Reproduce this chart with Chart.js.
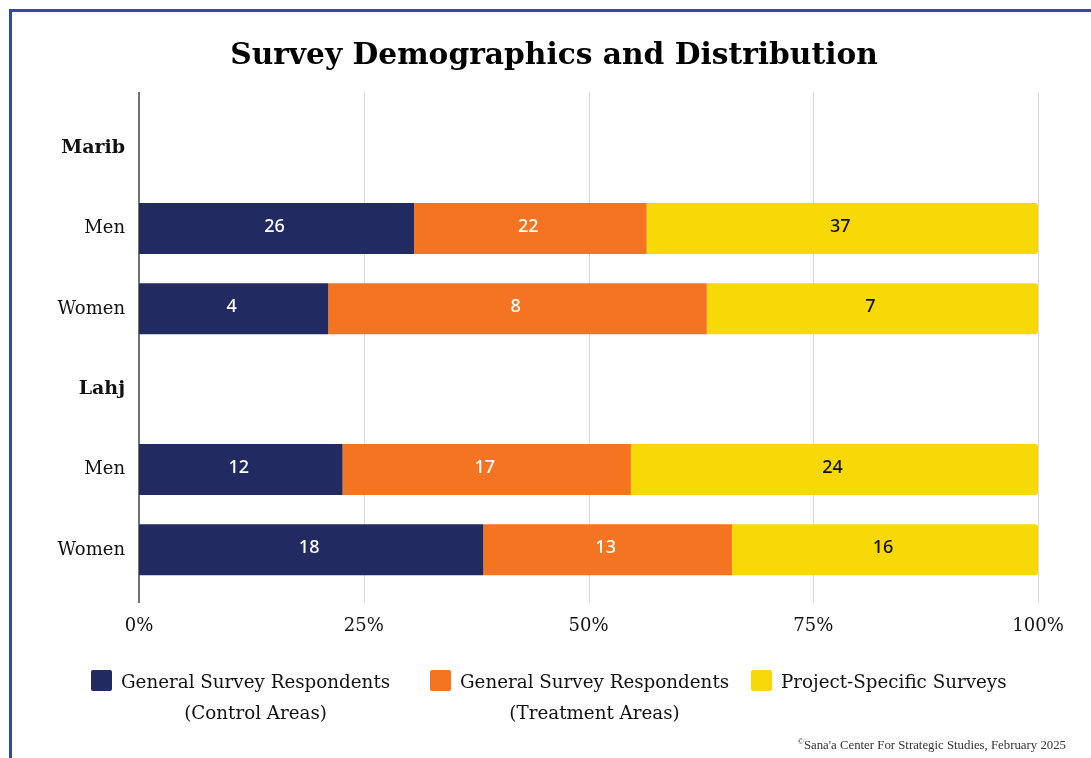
<!DOCTYPE html>
<html>
<head>
<meta charset="utf-8">
<title>Survey Demographics and Distribution</title>
<script src="https://cdn.jsdelivr.net/npm/chart.js@4.4.1/dist/chart.umd.min.js"></script>
<style>
  html, body { margin: 0; padding: 0; background: #ffffff; }
  body { width: 1091px; height: 758px; position: relative; overflow: hidden; }
  #frame {
    position: absolute; left: 9px; top: 9px; width: 1100px; height: 760px;
    border-left: 3px solid #2d4c9c; border-top: 3px solid #2d4c9c;
    box-sizing: border-box;
  }
  #wrap { position: absolute; left: 0; top: 0; width: 1091px; height: 758px; }
  #title {
    position: absolute; left: 154px; width: 800px; top: 36px; text-align: center;
    font-family: "DejaVu Serif", serif; font-weight: bold; font-size: 29.7px; line-height: 36px;
    color: #000; white-space: nowrap;
  }
  .legend-item { position: absolute; top: 666px; font-family: "DejaVu Serif", serif; font-size: 18.3px; color: #111; }
  .legend-box { position: absolute; left: 0; top: 4px; width: 21px; height: 21px; border-radius: 2px; }
  .legend-text { position: absolute; left: 30px; top: 0; white-space: nowrap; text-align: center; line-height: 31px; }
  #credit {
    position: absolute; right: 25px; top: 737px;
    font-family: "Liberation Serif", serif; font-size: 12.8px; color: #333; white-space: nowrap;
  }
  #credit sup { font-size: 8px; }
</style>
</head>
<body>
<div id="frame"></div>
<div id="wrap"><canvas id="chart" width="1091" height="758"></canvas></div>
<div id="title">Survey Demographics and Distribution</div>
<div id="legend"></div>
<div id="credit"><sup>©</sup>Sana'a Center For Strategic Studies, February 2025</div>
<script>
// Row labels: governorate headers have no bar of their own
const categories = ['Marib', 'Men', 'Women', 'Lahj', 'Men', 'Women'];
const headerRows = [true, false, false, true, false, false];

// Respondent counts per row
const controlCounts   = [null, 26, 4, null, 12, 18];
const treatmentCounts = [null, 22, 8, null, 17, 13];
const projectCounts   = [null, 37, 7, null, 24, 16];

const seriesNames = [
  ['General Survey Respondents', '(Control Areas)'],
  ['General Survey Respondents', '(Treatment Areas)'],
  ['Project-Specific Surveys']
];
const seriesColors = ['#222a62', '#f47421', '#f8d908'];
const seriesLabelColors = ['#ffffff', '#ffffff', '#111111'];

const xTickValues = [0, 25, 50, 75, 100];

// Row totals, used to turn counts into shares of 100%
const rowTotals = categories.map((_, i) =>
  headerRows[i] ? null : controlCounts[i] + treatmentCounts[i] + projectCounts[i]);
const toShare = counts => counts.map((v, i) => v == null ? null : v / rowTotals[i] * 100);

const allCounts = [controlCounts, treatmentCounts, projectCounts];

const datasets = allCounts.map((counts, k) => ({
  label: seriesNames[k].join(' '),
  data: toShare(counts),
  counts: counts,
  backgroundColor: seriesColors[k],
  borderWidth: 0,
  borderRadius: k === 2 ? { topLeft: 0, bottomLeft: 0, topRight: 3, bottomRight: 3 } : 0,
  borderSkipped: false,
  barPercentage: 0.635,
  categoryPercentage: 1.0
}));

// Gridlines and the category axis line, stretched a little past the plot area
const gridPlugin = {
  id: 'extendedGrid',
  beforeDatasetsDraw(chart) {
    const { ctx, chartArea, scales } = chart;
    const top = chartArea.top - 16, bottom = chartArea.bottom + 13;
    ctx.save();
    ctx.lineWidth = 1;
    ctx.strokeStyle = '#dadada';
    xTickValues.forEach(v => {
      if (v === 0) return;
      const x = Math.round(scales.x.getPixelForValue(v)) + 0.5;
      ctx.beginPath(); ctx.moveTo(x, top); ctx.lineTo(x, bottom); ctx.stroke();
    });
    ctx.strokeStyle = '#444444';
    ctx.lineWidth = 1.5;
    const x0 = scales.x.getPixelForValue(0);
    ctx.beginPath(); ctx.moveTo(x0, top); ctx.lineTo(x0, bottom); ctx.stroke();
    ctx.restore();
  }
};

// Count labels centred in each segment
const valueLabelPlugin = {
  id: 'valueLabels',
  afterDatasetsDraw(chart) {
    const { ctx } = chart;
    ctx.save();
    ctx.font = '500 18px "Noto Sans", sans-serif';
    ctx.textAlign = 'center';
    ctx.textBaseline = 'middle';
    chart.data.datasets.forEach((ds, k) => {
      const meta = chart.getDatasetMeta(k);
      meta.data.forEach((el, i) => {
        if (ds.counts[i] == null) return;
        const p = el.getCenterPoint();
        ctx.fillStyle = seriesLabelColors[k];
        ctx.fillText(String(ds.counts[i]), p.x - 2, p.y - 2);
      });
    });
    ctx.restore();
  }
};

new Chart(document.getElementById('chart'), {
  type: 'bar',
  data: { labels: categories, datasets },
  options: {
    indexAxis: 'y',
    responsive: false,
    animation: false,
    layout: { padding: { left: 0, right: 53, top: 108, bottom: 0 } },
    scales: {
      x: {
        stacked: true,
        min: 0, max: 100,
        afterBuildTicks(scale) { scale.ticks = xTickValues.map(v => ({ value: v })); },
        ticks: {
          callback: v => v + '%',
          font: { family: 'DejaVu Serif', size: 18 },
          color: '#111',
          padding: 26,
          maxRotation: 0
        },
        grid: { display: false, drawTicks: false },
        border: { display: false },
        afterFit(scale) { scale.height = 168; }
      },
      y: {
        stacked: true,
        ticks: {
          font: ctx => headerRows[ctx.index]
            ? { family: 'DejaVu Serif', size: 19, weight: 'bold' }
            : { family: 'DejaVu Serif', size: 18, weight: 'normal' },
          color: '#111',
          padding: 14
        },
        grid: { display: false, drawTicks: false },
        border: { display: false },
        afterFit(scale) { scale.width = 139; }
      }
    },
    plugins: {
      legend: { display: false },
      tooltip: { enabled: false },
      title: { display: false }
    }
  },
  plugins: [gridPlugin, valueLabelPlugin]
});

// Legend built from the same series names and colours
const legendX = [91, 430, 751];
const legend = document.getElementById('legend');
seriesNames.forEach((lines, k) => {
  const item = document.createElement('div');
  item.className = 'legend-item';
  item.style.left = legendX[k] + 'px';
  const box = document.createElement('div');
  box.className = 'legend-box';
  box.style.background = seriesColors[k];
  const text = document.createElement('div');
  text.className = 'legend-text';
  text.innerHTML = lines.join('<br>');
  item.appendChild(box);
  item.appendChild(text);
  legend.appendChild(item);
});
</script>
</body>
</html>
